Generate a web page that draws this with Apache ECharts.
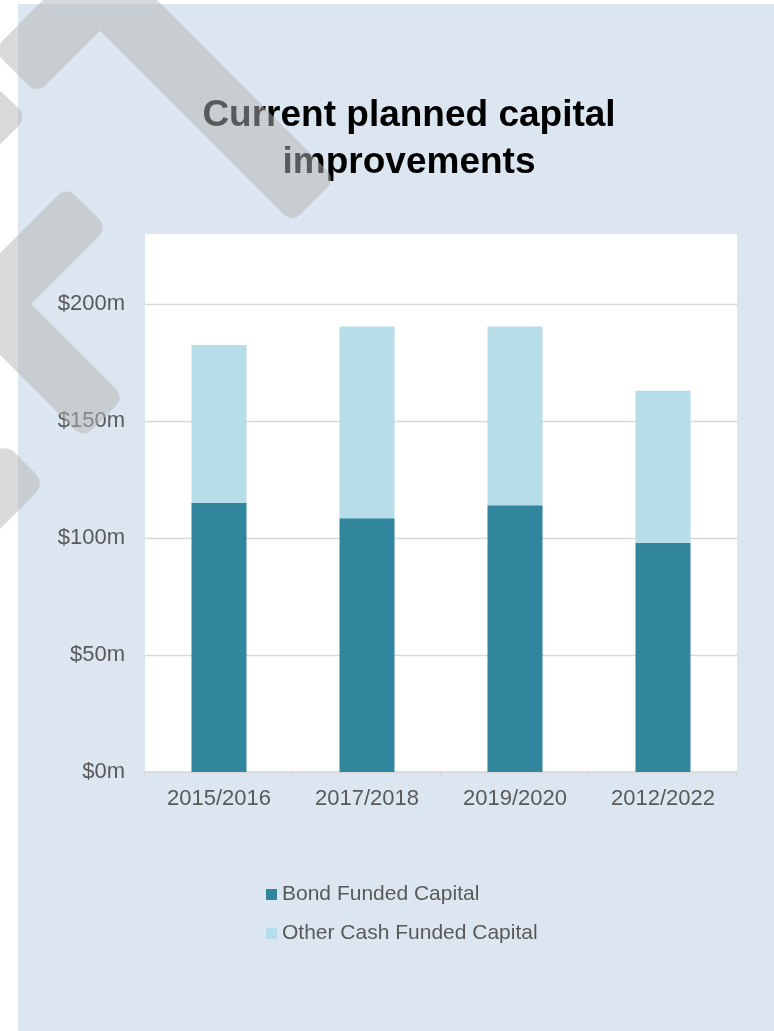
<!DOCTYPE html>
<html>
<head>
<meta charset="utf-8">
<script src="https://cdn.jsdelivr.net/npm/echarts@6/dist/echarts.min.js"></script>
<style>
  html, body { margin: 0; padding: 0; background: #ffffff; }
  #chart { width: 774px; height: 1031px; }
</style>
</head>
<body>
<div id="chart"></div>
<script>
const titleText = 'Current planned capital\nimprovements';
const categories = ['2015/2016', '2017/2018', '2019/2020', '2012/2022'];
const bondFunded = [115, 108.5, 114, 98];
const otherCashFunded = [67.5, 82, 76.5, 65];
const seriesNames = ['Bond Funded Capital', 'Other Cash Funded Capital'];
const yTicks = { min: 0, max: 230, interval: 50 };

const FONT = '"Liberation Sans", Arial, sans-serif';
const wm = 'rgba(180,180,180,0.5)';

// --- decorative watermark helpers (rounded polygon outlines, sampled) ---
function unit(v) { const l = Math.hypot(v[0], v[1]); return [v[0] / l, v[1] / l]; }
function roundedPoly(pts, radii) {
  const n = pts.length, out = [];
  for (let i = 0; i < n; i++) {
    const v = pts[i], p = pts[(i - 1 + n) % n], q = pts[(i + 1) % n], r = radii[i];
    if (!r) { out.push(v); continue; }
    const a = unit([p[0] - v[0], p[1] - v[1]]), b = unit([q[0] - v[0], q[1] - v[1]]);
    const s = [v[0] + a[0] * r, v[1] + a[1] * r];
    const e = [v[0] + b[0] * r, v[1] + b[1] * r];
    for (let k = 0; k <= 8; k++) {
      const t = k / 8, u = 1 - t;
      out.push([u * u * s[0] + 2 * u * t * v[0] + t * t * e[0],
                u * u * s[1] + 2 * u * t * v[1] + t * t * e[1]]);
    }
  }
  return out;
}
function chevronPts(A, P, B, w, r) {
  const h = w / 2;
  const d1 = unit([P[0] - A[0], P[1] - A[1]]), d2 = unit([B[0] - P[0], B[1] - P[1]]);
  const n1 = [-d1[1], d1[0]], n2 = [-d2[1], d2[0]];
  const m = unit([n1[0] + n2[0], n1[1] + n2[1]]);
  const ml = h / (m[0] * n1[0] + m[1] * n1[1]);
  const pts = [
    [A[0] + n1[0] * h, A[1] + n1[1] * h],
    [P[0] + m[0] * ml, P[1] + m[1] * ml],
    [B[0] + n2[0] * h, B[1] + n2[1] * h],
    [B[0] - n2[0] * h, B[1] - n2[1] * h],
    [P[0] - m[0] * ml, P[1] - m[1] * ml],
    [A[0] - n1[0] * h, A[1] - n1[1] * h]
  ];
  return roundedPoly(pts, [r, 0, r, r, 0, r]);
}
function armPts(A, B, w, r) {
  const h = w / 2, d = unit([B[0] - A[0], B[1] - A[1]]), n = [-d[1], d[0]];
  const pts = [
    [A[0] + n[0] * h, A[1] + n[1] * h], [B[0] + n[0] * h, B[1] + n[1] * h],
    [B[0] - n[0] * h, B[1] - n[1] * h], [A[0] - n[0] * h, A[1] - n[1] * h]
  ];
  return roundedPoly(pts, [r, 0, 0, r]);
}
function wmShape(points) {
  return { type: 'polygon', z: 100, silent: true, shape: { points: points }, style: { fill: wm, stroke: null } };
}

const chart = echarts.init(document.getElementById('chart'), null, { renderer: 'canvas' });
chart.setOption({
  backgroundColor: '#dce6f1',
  animation: false,
  title: {
    text: titleText,
    left: 404,
    top: 87,
    textAlign: 'center',
    textStyle: { fontFamily: FONT, fontSize: 37, fontWeight: 'bold', color: '#000000', lineHeight: 47 }
  },
  legend: {
    orient: 'vertical',
    left: 261,
    top: 879,
    itemWidth: 11,
    itemHeight: 11,
    itemGap: 18,
    icon: 'rect',
    data: seriesNames,
    textStyle: { fontFamily: FONT, fontSize: 21, color: '#595959', lineHeight: 21 }
  },
  grid: {
    left: 145, right: 37, top: 234, bottom: 259,
    show: true, backgroundColor: '#ffffff', borderWidth: 0
  },
  xAxis: {
    type: 'category',
    data: categories,
    axisLine: { lineStyle: { color: '#d9d9d9', width: 1.5 } },
    axisTick: { show: true, length: 6, lineStyle: { color: '#d9d9d9', width: 1.5 } },
    axisLabel: { fontFamily: FONT, fontSize: 22, color: '#595959', margin: 16 }
  },
  yAxis: {
    type: 'value',
    min: yTicks.min, max: yTicks.max, interval: yTicks.interval,
    axisLine: { show: false },
    axisTick: { show: false },
    axisLabel: {
      fontFamily: FONT, fontSize: 22, color: '#595959', margin: 20,
      showMaxLabel: false,
      formatter: v => (v % 50 === 0 ? '$' + v + 'm' : '')
    },
    splitLine: { show: true, showMaxLine: false, lineStyle: { color: '#d9d9d9', width: 1.3 } }
  },
  series: [
    {
      name: seriesNames[0], type: 'bar', stack: 'total', data: bondFunded,
      barWidth: 55, itemStyle: { color: '#31859c' }
    },
    {
      name: seriesNames[1], type: 'bar', stack: 'total', data: otherCashFunded,
      barWidth: 55, itemStyle: { color: '#b7dee8' }
    }
  ],
  graphic: [
    { type: 'rect', z: 50, silent: true, shape: { x: 0, y: 0, width: 18, height: 1031 }, style: { fill: '#ffffff' } },
    { type: 'rect', z: 50, silent: true, shape: { x: 0, y: 0, width: 774, height: 4 }, style: { fill: '#ffffff' } },
    wmShape(chevronPts([15, 72], [100, -13], [314, 201], 62, 14)),
    wmShape(chevronPts([87, 207], [-10, 304], [104, 418], 58, 14)),
    wmShape(armPts([11, 101], [-80, 192], 46, 14)),
    wmShape(armPts([25, 463], [-100, 588], 58, 16))
  ]
});
</script>
</body>
</html>
